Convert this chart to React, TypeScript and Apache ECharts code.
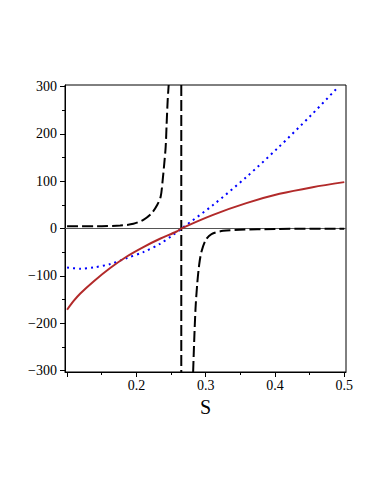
import React, { useEffect, useRef } from "react";
import * as echarts from "echarts";

// Axis ranges and tick labels
const xRange = [0.097, 0.5025];
const yRange = [-303, 303];
const xMajorTicks = [0.1, 0.2, 0.3, 0.4, 0.5];
const xMinorTicks = [0.15, 0.25, 0.35, 0.45];
const xLabels = [0.2, 0.3, 0.4, 0.5];
const yMajorTicks = [-300, -200, -100, 0, 100, 200, 300];
const yMinorTicks = [-250, -150, -50, 50, 150, 250];
const xName = "S";

// Red solid curve
const redX = [0.1, 0.1095, 0.1191, 0.1382, 0.1622, 0.1862, 0.2101, 0.2341, 0.2581, 0.2653, 0.3107, 0.3587, 0.4066, 0.4544, 0.5];
const redY = [-171.5, -153, -137.3, -111.8, -83.5, -59.1, -39.2, -21.7, -6.3, 0.4, 28.9, 53.6, 73.2, 87.3, 97.9];

// Blue dotted curve
const blueX = [0.1, 0.1191, 0.1382, 0.1622, 0.1862, 0.2101, 0.2341, 0.2532, 0.2653, 0.311, 0.359, 0.4033, 0.453, 0.4895];
const blueY = [-82.3, -85, -82.3, -75.1, -62.4, -49.8, -32.3, -13.3, 0, 50, 109, 168.8, 240.5, 296.2];

// Black dashed curve: left branch, jump across the pole, right branch
const dashLeftX = [0.1, 0.15, 0.1766, 0.1957, 0.2101, 0.2222, 0.2302, 0.2351, 0.238, 0.2403, 0.2423, 0.2437, 0.2452, 0.2466];
const dashLeftY = [4.5, 5, 6.3, 9.9, 18.4, 32.5, 50, 67.5, 102.7, 138, 173, 222, 271.5, 303];
const dashPoleX = [0.2648, 0.2648];
const dashPoleY = [303, -303];
const dashRightX = [0.2819, 0.2834, 0.2854, 0.2877, 0.2906, 0.294, 0.3002, 0.3084, 0.3251, 0.3491, 0.4, 0.5];
const dashRightY = [-303, -238.4, -168, -118.8, -76.6, -48.5, -23.8, -11.8, -4.9, -2.7, -1, -0.5];

// Zero reference line
const zeroX = [0.097, 0.5025];
const zeroY = [0, 0];

const zip = (xs: number[], ys: number[]) => xs.map((x, i) => [x, ys[i]]);

const FONT = "'Liberation Serif', 'DejaVu Serif', 'Times New Roman', serif";

export default function App() {
  const ref = useRef<HTMLDivElement>(null);
  useEffect(() => {
    if (!ref.current) return;
    const chart = echarts.init(ref.current, undefined, { renderer: "svg" });
    const hiddenAxisBits = {
      axisLine: { show: false },
      axisLabel: { show: false },
      splitLine: { show: false },
    };
    chart.setOption({
      animation: false,
      backgroundColor: "#ffffff",
      grid: {
        left: 65,
        top: 85,
        right: 36,
        bottom: 122,
        show: true,
        borderColor: "#000",
        borderWidth: 1,
        backgroundColor: "transparent",
      },
      xAxis: [
        {
          type: "value",
          min: xRange[0],
          max: xRange[1],
          position: "bottom",
          axisLine: { show: true, onZero: false, lineStyle: { color: "#000", width: 1 } },
          axisTick: { show: true, length: 5, customValues: xMajorTicks, lineStyle: { color: "#000" } },
          axisLabel: {
            show: true,
            customValues: xLabels,
            margin: 6,
            color: "#000",
            fontFamily: FONT,
            fontSize: 14,
            formatter: (v: number) => String(Math.round(v * 10) / 10),
          },
          splitLine: { show: false },
          name: xName,
          nameLocation: "middle",
          nameGap: 21,
          nameTextStyle: { color: "#000", fontFamily: FONT, fontSize: 20, verticalAlign: "top" },
        },
        {
          type: "value",
          min: xRange[0],
          max: xRange[1],
          position: "bottom",
          ...hiddenAxisBits,
          axisLine: { show: false, onZero: false },
          axisTick: { show: true, length: 3, customValues: xMinorTicks, lineStyle: { color: "#000" } },
        },
      ],
      yAxis: [
        {
          type: "value",
          min: yRange[0],
          max: yRange[1],
          position: "left",
          axisLine: { show: true, onZero: false, lineStyle: { color: "#000", width: 1 } },
          axisTick: { show: true, length: 5, customValues: yMajorTicks, lineStyle: { color: "#000" } },
          axisLabel: {
            show: true,
            customValues: yMajorTicks,
            margin: 8,
            color: "#000",
            fontFamily: FONT,
            fontSize: 14,
            formatter: (v: number) => String(v).replace("-", "\u2212"),
          },
          splitLine: { show: false },
        },
        {
          type: "value",
          min: yRange[0],
          max: yRange[1],
          position: "left",
          ...hiddenAxisBits,
          axisLine: { show: false, onZero: false },
          axisTick: { show: true, length: 3, customValues: yMinorTicks, lineStyle: { color: "#000" } },
        },
      ],
      series: [
        {
          type: "line",
          name: "zero",
          data: zip(zeroX, zeroY),
          symbol: "none",
          lineStyle: { color: "#555", width: 1.2 },
          silent: true,
          z: 1,
        },
        {
          type: "line",
          name: "dashedLeft",
          data: zip(dashLeftX, dashLeftY),
          symbol: "none",
          smooth: 0.3,
          clip: true,
          lineStyle: { color: "#000", width: 2, type: [11, 4] },
          z: 2,
        },
        {
          type: "line",
          name: "dashedPole",
          data: zip(dashPoleX, dashPoleY),
          symbol: "none",
          clip: true,
          lineStyle: { color: "#000", width: 2, type: [11, 4] },
          z: 2,
        },
        {
          type: "line",
          name: "dashedRight",
          data: zip(dashRightX, dashRightY),
          symbol: "none",
          smooth: 0.3,
          clip: true,
          lineStyle: { color: "#000", width: 2, type: [11, 4] },
          z: 2,
        },
        {
          type: "line",
          name: "blue",
          data: zip(blueX, blueY),
          symbol: "none",
          smooth: 0.3,
          clip: true,
          lineStyle: { color: "#0000ff", width: 2, type: [2, 4] },
          z: 3,
        },
        {
          type: "line",
          name: "red",
          data: zip(redX, redY),
          symbol: "none",
          smooth: 0.3,
          clip: true,
          lineStyle: { color: "#b22a2a", width: 2 },
          z: 4,
        },
      ],
    });
    return () => chart.dispose();
  }, []);
  return (
    <div
      ref={ref}
      style={{ position: "fixed", left: 0, top: 0, width: 382, height: 494, background: "#fff" }}
    />
  );
}
